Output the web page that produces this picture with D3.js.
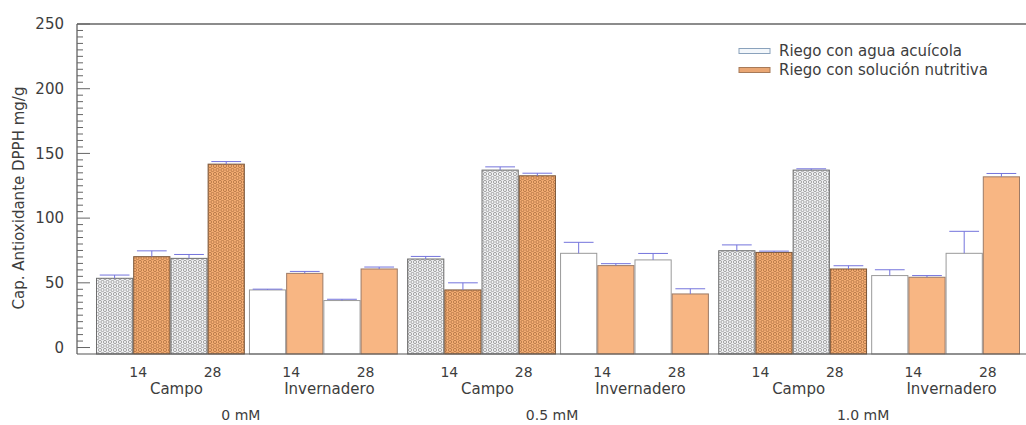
<!DOCTYPE html>
<html lang="es">
<head>
  <meta charset="UTF-8" />
  <title>Capacidad antioxidante DPPH</title>
  <script src="https://d3js.org/d3.v7.min.js"></script>
  <style>
    body { margin: 0; overflow: hidden; background: #fff; }
    svg { font-family: "DejaVu Sans", sans-serif; }
    text { fill: #3d3d3d; }
    .err { stroke: #7474dc; stroke-width: 1; }
  </style>
</head>
<body>
  <svg width="1026" height="425"></svg>
  <script>
    const width = 1026, height = 425;

    // datos (orden: concentración -> lugar -> día)
    const concentrations = ["0 mM", "0.5 mM", "1.0 mM"];
    const locations = ["Campo", "Invernadero"];
    const days = ["14", "28"];
    const seriesNames = ["Riego con agua acuícola", "Riego con solución nutritiva"];
    const acuicolaValues  = [53.5, 68.9, 44.5, 36.3, 68.4, 137.1, 72.8, 67.7, 74.8, 137.1, 55.6, 72.8];
    const acuicolaErrors  = [2.5, 3, 0.6, 1, 2, 2.5, 8.5, 5, 4.5, 1, 4.5, 17];
    const nutritivaValues = [70.2, 141.7, 57.3, 60.7, 44.5, 132.7, 63.3, 41.4, 73.5, 60.7, 54.3, 131.9];
    const nutritivaErrors = [4.5, 2, 1.5, 1.5, 5.5, 2, 1.5, 4, 1, 2.5, 1.3, 2.6];
    const yTicks = [0, 50, 100, 150, 200, 250];

    const svg = d3.select("svg");
    const plotLeft = 77, plotRight = 1026, plotTop = 24, plotBottom = 354;

    // escalas anidadas
    const xConc = d3.scaleBand().domain(concentrations).range([96, 1020]).paddingInner(0.03);
    const xLoc = d3.scaleBand().domain(locations).range([0, xConc.bandwidth()]).paddingInner(0.027);
    const xDay = d3.scaleBand().domain(days).range([0, xLoc.bandwidth()]);
    const xSer = d3.scaleBand().domain(seriesNames).range([0, xDay.bandwidth()]);
    const y = d3.scaleLinear().domain([-5, 250]).range([plotBottom, plotTop]);

    // patrones de puntos para "Campo"
    const defs = svg.append("defs");
    function dotPattern(id, bg, dot) {
      const p = defs.append("pattern").attr("id", id)
        .attr("patternUnits", "userSpaceOnUse").attr("width", 5).attr("height", 8);
      p.append("rect").attr("width", 5).attr("height", 8).attr("fill", bg);
      [[2.5, 2], [0, 6], [5, 6]].forEach(([cx, cy]) =>
        p.append("circle").attr("cx", cx).attr("cy", cy).attr("r", 1.6)
          .attr("fill", "none").attr("stroke", dot).attr("stroke-width", 0.8));
    }
    dotPattern("dotsGray", "#f2f3f5", "#8f8f8f");
    dotPattern("dotsOrange", "#f5ae74", "#ad7040");

    const styles = {
      "Campo": [
        { fill: "url(#dotsGray)", stroke: "#6e6e6e" },
        { fill: "url(#dotsOrange)", stroke: "#7a5538" }
      ],
      "Invernadero": [
        { fill: "#ffffff", stroke: "#9a9a9a" },
        { fill: "#f8b683", stroke: "#9c7a66" }
      ]
    };

    // construir registros
    const bars = [];
    let k = 0;
    concentrations.forEach(c => locations.forEach(l => days.forEach(d => {
      bars.push({ c, l, d, s: 0, v: acuicolaValues[k], e: acuicolaErrors[k] });
      bars.push({ c, l, d, s: 1, v: nutritivaValues[k], e: nutritivaErrors[k] });
      k++;
    })));
    const barX = b => xConc(b.c) + xLoc(b.l) + xDay(b.d) + xSer(seriesNames[b.s]);
    const bw = xSer.bandwidth();

    // barras
    svg.append("g").selectAll("rect").data(bars).join("rect")
      .attr("x", b => barX(b) + 0.5)
      .attr("y", b => y(b.v))
      .attr("width", bw - 1)
      .attr("height", b => plotBottom - y(b.v))
      .attr("fill", b => styles[b.l][b.s].fill)
      .attr("stroke", b => styles[b.l][b.s].stroke)
      .attr("stroke-width", 1);

    // barras de error (solo superiores)
    const eg = svg.append("g");
    bars.forEach(b => {
      const cx = barX(b) + bw / 2, hw = bw * 0.4;
      eg.append("line").attr("class", "err").attr("x1", cx).attr("x2", cx).attr("y1", y(b.v)).attr("y2", y(b.v + b.e));
      eg.append("line").attr("class", "err").attr("x1", cx - hw).attr("x2", cx + hw).attr("y1", y(b.v + b.e)).attr("y2", y(b.v + b.e));
    });

    // marco: borde superior y eje inferior
    svg.append("line").attr("x1", plotLeft).attr("x2", plotRight).attr("y1", plotTop).attr("y2", plotTop)
      .attr("stroke", "#8c8c8c").attr("stroke-width", 2);
    svg.append("line").attr("x1", plotLeft).attr("x2", plotRight).attr("y1", plotBottom).attr("y2", plotBottom)
      .attr("stroke", "#555").attr("stroke-width", 1.2);

    // eje Y con marcas hacia dentro
    const yAxis = svg.append("g").attr("transform", `translate(${plotLeft},0)`);
    yAxis.append("line").attr("y1", plotTop).attr("y2", plotBottom).attr("stroke", "#555").attr("stroke-width", 1.2);
    yAxis.selectAll("line.minor").data(d3.range(0, 251, 5)).join("line").attr("class", "minor")
      .attr("x1", 0).attr("x2", d => d % 50 === 0 ? 13 : 6)
      .attr("y1", d => y(d)).attr("y2", d => y(d))
      .attr("stroke", "#666").attr("stroke-width", 1);
    yAxis.selectAll("text").data(yTicks).join("text")
      .attr("x", -13).attr("y", d => y(d)).attr("dy", "0.35em")
      .attr("text-anchor", "end").attr("font-size", 15).text(d => d);

    svg.append("text")
      .attr("transform", "translate(24,198) rotate(-90)")
      .attr("text-anchor", "middle").attr("font-size", 15)
      .text("Cap. Antioxidante DPPH mg/g");

    // etiquetas del eje X
    const xl = svg.append("g").attr("text-anchor", "middle");
    concentrations.forEach(c => {
      locations.forEach(l => {
        days.forEach(d => {
          xl.append("text").attr("x", xConc(c) + xLoc(l) + xDay(d) + xDay.bandwidth() / 2 + 5)
            .attr("y", 377).attr("font-size", 14).text(d);
        });
        xl.append("text").attr("x", xConc(c) + xLoc(l) + xLoc.bandwidth() / 2 + 6)
          .attr("y", 394).attr("font-size", 15).text(l);
      });
      xl.append("text").attr("x", xConc(c) + xConc.bandwidth() / 2 - 6)
        .attr("y", 420).attr("font-size", 14).text(c);
    });

    // leyenda
    const legendSw = [
      { fill: "#f3f7fb", stroke: "#8aa2bc" },
      { fill: "#e9a673", stroke: "#a77a58" }
    ];
    const lg = svg.append("g");
    seriesNames.forEach((s, i) => {
      const ly = 51 + i * 19;
      lg.append("rect").attr("x", 739).attr("y", ly - 2.5).attr("width", 31).attr("height", 5)
        .attr("fill", legendSw[i].fill).attr("stroke", legendSw[i].stroke);
      lg.append("text").attr("x", 779).attr("y", ly).attr("dy", "0.35em")
        .attr("font-size", 15).text(s);
    });
  </script>
</body>
</html>
